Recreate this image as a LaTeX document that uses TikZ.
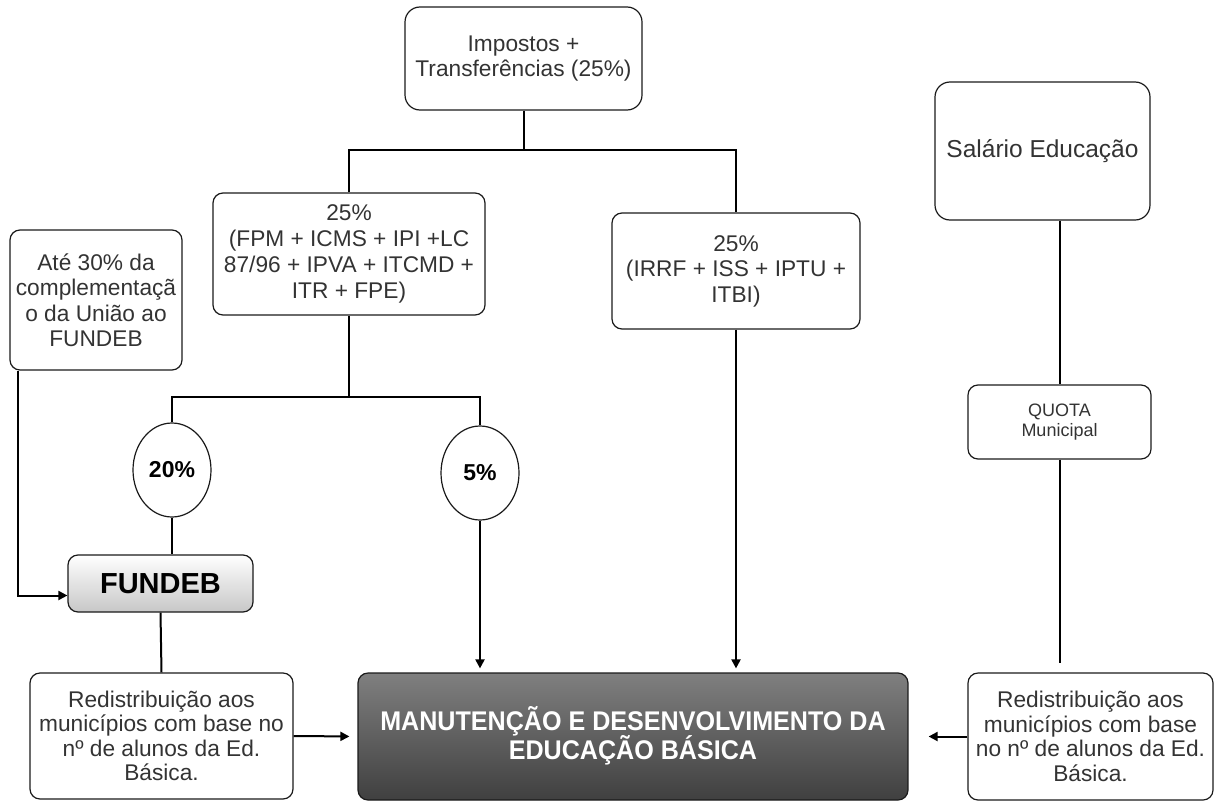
\documentclass[tikz,border=0pt]{standalone}
\usepackage{fontspec}
\setmainfont{Liberation Sans}
\usetikzlibrary{arrows.meta,shapes.geometric,calc}
\definecolor{txt}{HTML}{333333}
\definecolor{edge}{HTML}{1A1A1A}
\tikzset{
  box/.style={draw=edge, line width=1.2pt, rounded corners=10pt, align=center, text=txt, font=\fontsize{22.7}{25.5}\selectfont, inner sep=0pt},
  pct/.style={draw=edge, line width=1.2pt, ellipse, minimum width=78pt, minimum height=94pt, inner sep=0pt, font=\bfseries\fontsize{23}{25}\selectfont, text=black},
  conn/.style={draw=black, line width=2pt},
  arr/.style={conn, -{Triangle[length=9pt,width=9pt]}},
}
\begin{document}
\begin{tikzpicture}[x=1pt,y=1pt]
\useasboundingbox (0,0) rectangle (1214,-800);
% nodes
\node[box, rounded corners=15pt, minimum width=237pt, minimum height=103pt] (top) at (523.5,-58.5) {Impostos +\\Transferências (25\%)};
\node[box, minimum width=272pt, minimum height=122pt, font=\fontsize{22.7}{26}\selectfont] (l25) at (349,-254) {25\%\\(FPM + ICMS + IPI +LC\\87/96 + IPVA + ITCMD +\\ITR + FPE)};
\node[box, minimum width=248pt, minimum height=116pt] (r25) at (736,-271) {25\%\\(IRRF + ISS + IPTU +\\ITBI)};
\node[box, rounded corners=15pt, minimum width=215pt, minimum height=138pt, font=\fontsize{24.5}{27}\selectfont] (sal) at (1042.5,-151) {Salário Educação};
\node[box, minimum width=172pt, minimum height=140pt] (ate) at (96,-300) {Até 30\% da\\complementaçã\\o da União ao\\FUNDEB};
\node[pct] (c20) at (172,-470) {20\%};
\node[pct] (c5) at (480,-473) {5\%};
\node[box, minimum width=185pt, minimum height=57pt, top color=white, bottom color=black!22, text=black, font=\bfseries\fontsize{29}{30}\selectfont] (fundeb) at (160.5,-583.5) {FUNDEB};
\node[box, minimum width=263pt, minimum height=126pt, font=\fontsize{22.7}{24.5}\selectfont] (redl) at (161.5,-736) {Redistribuição aos\\municípios com base no\\nº de alunos da Ed.\\Básica.};
\node[box, minimum width=550pt, minimum height=127pt, top color=black!50, bottom color=black!75, text=white, font=\bfseries\fontsize{27}{24}\selectfont] (main) at (633,-736.5) {\scalebox{0.93}[1]{\begin{tabular}{@{}c@{}}MANUTENÇÃO E DESENVOLVIMENTO DA\\[-3pt]EDUCAÇÃO BÁSICA\end{tabular}}};
\node[box, minimum width=245pt, minimum height=127pt, font=\fontsize{22.7}{24.5}\selectfont] (redr) at (1090.5,-736.5) {Redistribuição aos\\municípios com base\\no nº de alunos da Ed.\\Básica.};
\node[box, minimum width=183pt, minimum height=74pt, font=\fontsize{18}{20}\selectfont] (quota) at (1059.5,-422) {QUOTA\\Municipal};
% junctions
\coordinate (j1) at (523.5,-150);
\coordinate (j2) at (349,-397);
\coordinate (qend) at (1059.5,-663);
% connectors
\draw[conn] (top.south) -- (j1);
\draw[conn] (l25.north) |- (j1) -| (r25.north);
\draw[conn] (l25.south) -- (j2);
\draw[conn] (c20.north) |- (j2) -| (c5.north);
\draw[conn] (c20.south) -- (c20.south |- fundeb.north);
\draw[arr] ([xshift=9pt]ate.south west) |- ([yshift=-12pt]fundeb.west);
\draw[conn] (fundeb.south) -- (redl.north);
\draw[arr, shorten >=4pt] (c5.south) -- (c5.south |- main.north);
\draw[arr, shorten >=4pt] (r25.south) -- (r25.south |- main.north);
\draw[conn] (sal.south -| quota.north) -- (quota.north);
\draw[conn] (quota.south) -- (qend);
\draw[arr, shorten >=8pt] (redl.east) -- (main.west);
\draw[arr, shorten >=20pt] (redr.west) -- (main.east);
\end{tikzpicture}
\end{document}
